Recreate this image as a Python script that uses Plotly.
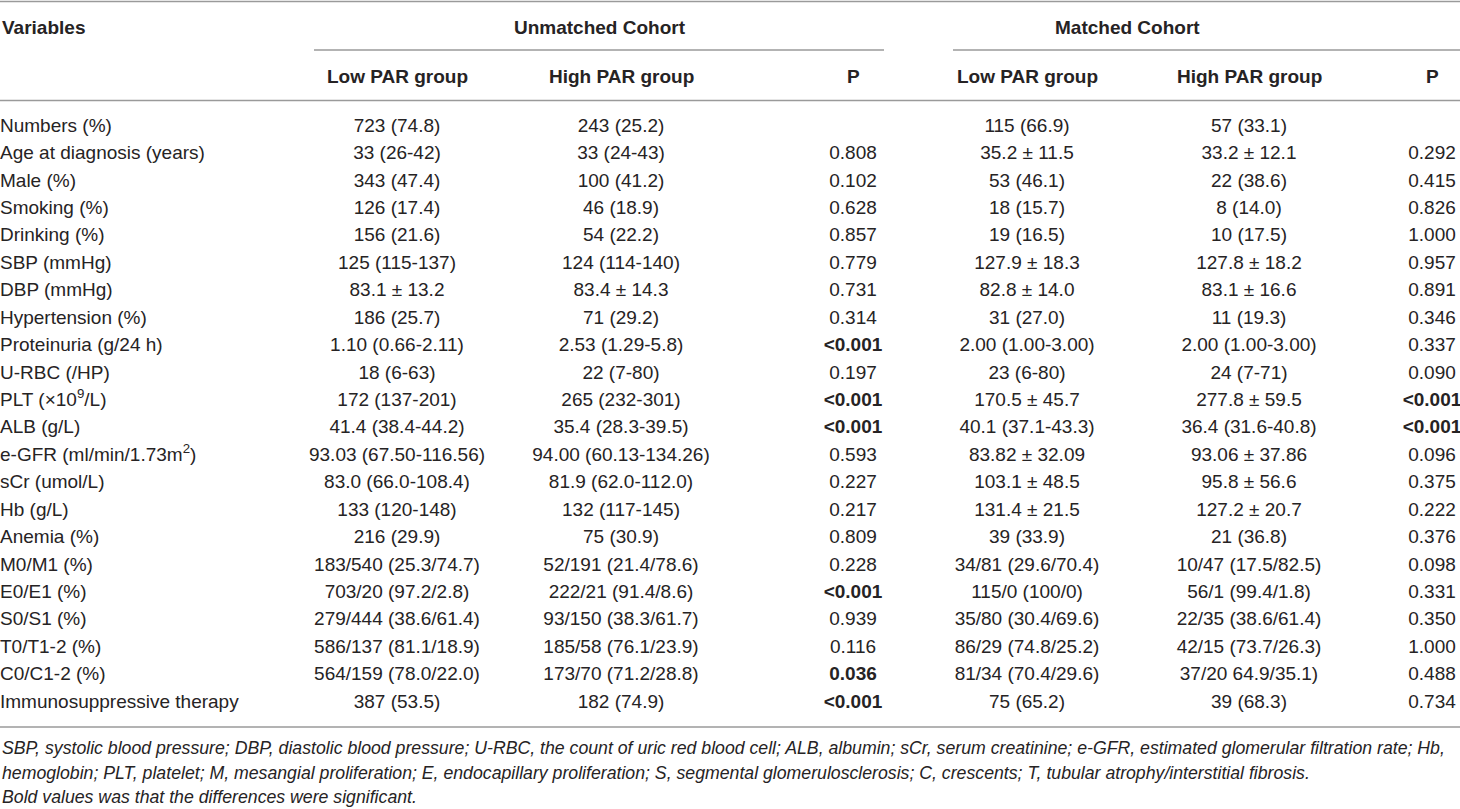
import plotly.graph_objects as go

variables = ["Numbers (%)", "Age at diagnosis (years)", "Male (%)", "Smoking (%)", "Drinking (%)",
             "SBP (mmHg)", "DBP (mmHg)", "Hypertension (%)", "Proteinuria (g/24 h)", "U-RBC (/HP)",
             "PLT (×10<sup>9</sup>/L)", "ALB (g/L)", "e-GFR (ml/min/1.73m<sup>2</sup>)", "sCr (umol/L)",
             "Hb (g/L)", "Anemia (%)", "M0/M1 (%)", "E0/E1 (%)", "S0/S1 (%)", "T0/T1-2 (%)",
             "C0/C1-2 (%)", "Immunosuppressive therapy"]
unm_low = ["723 (74.8)", "33 (26-42)", "343 (47.4)", "126 (17.4)", "156 (21.6)", "125 (115-137)",
           "83.1 ± 13.2", "186 (25.7)", "1.10 (0.66-2.11)", "18 (6-63)", "172 (137-201)",
           "41.4 (38.4-44.2)", "93.03 (67.50-116.56)", "83.0 (66.0-108.4)", "133 (120-148)",
           "216 (29.9)", "183/540 (25.3/74.7)", "703/20 (97.2/2.8)", "279/444 (38.6/61.4)",
           "586/137 (81.1/18.9)", "564/159 (78.0/22.0)", "387 (53.5)"]
unm_high = ["243 (25.2)", "33 (24-43)", "100 (41.2)", "46 (18.9)", "54 (22.2)", "124 (114-140)",
            "83.4 ± 14.3", "71 (29.2)", "2.53 (1.29-5.8)", "22 (7-80)", "265 (232-301)",
            "35.4 (28.3-39.5)", "94.00 (60.13-134.26)", "81.9 (62.0-112.0)", "132 (117-145)",
            "75 (30.9)", "52/191 (21.4/78.6)", "222/21 (91.4/8.6)", "93/150 (38.3/61.7)",
            "185/58 (76.1/23.9)", "173/70 (71.2/28.8)", "182 (74.9)"]
unm_p = ["", "0.808", "0.102", "0.628", "0.857", "0.779", "0.731", "0.314", "<0.001", "0.197",
         "<0.001", "<0.001", "0.593", "0.227", "0.217", "0.809", "0.228", "<0.001", "0.939",
         "0.116", "0.036", "<0.001"]
unm_p_bold = [False, False, False, False, False, False, False, False, True, False,
              True, True, False, False, False, False, False, True, False,
              False, True, True]
mat_low = ["115 (66.9)", "35.2 ± 11.5", "53 (46.1)", "18 (15.7)", "19 (16.5)", "127.9 ± 18.3",
           "82.8 ± 14.0", "31 (27.0)", "2.00 (1.00-3.00)", "23 (6-80)", "170.5 ± 45.7",
           "40.1 (37.1-43.3)", "83.82 ± 32.09", "103.1 ± 48.5", "131.4 ± 21.5", "39 (33.9)",
           "34/81 (29.6/70.4)", "115/0 (100/0)", "35/80 (30.4/69.6)", "86/29 (74.8/25.2)",
           "81/34 (70.4/29.6)", "75 (65.2)"]
mat_high = ["57 (33.1)", "33.2 ± 12.1", "22 (38.6)", "8 (14.0)", "10 (17.5)", "127.8 ± 18.2",
            "83.1 ± 16.6", "11 (19.3)", "2.00 (1.00-3.00)", "24 (7-71)", "277.8 ± 59.5",
            "36.4 (31.6-40.8)", "93.06 ± 37.86", "95.8 ± 56.6", "127.2 ± 20.7", "21 (36.8)",
            "10/47 (17.5/82.5)", "56/1 (99.4/1.8)", "22/35 (38.6/61.4)", "42/15 (73.7/26.3)",
            "37/20 64.9/35.1)", "39 (68.3)"]
mat_p = ["", "0.292", "0.415", "0.826", "1.000", "0.957", "0.891", "0.346", "0.337", "0.090",
         "<0.001", "<0.001", "0.096", "0.375", "0.222", "0.376", "0.098", "0.331", "0.350",
         "1.000", "0.488", "0.734"]
mat_p_bold = [False, False, False, False, False, False, False, False, False, False,
              True, True, False, False, False, False, False, False, False,
              False, False, False]

group_headers = ["Unmatched Cohort", "Matched Cohort"]
sub_headers = ["Low PAR group", "High PAR group", "P", "Low PAR group", "High PAR group", "P"]
footnotes = [
    "SBP, systolic blood pressure; DBP, diastolic blood pressure; U-RBC, the count of uric red blood cell; ALB, albumin; sCr, serum creatinine; e-GFR, estimated glomerular filtration rate; Hb,",
    "hemoglobin; PLT, platelet; M, mesangial proliferation; E, endocapillary proliferation; S, segmental glomerulosclerosis; C, crescents; T, tubular atrophy/interstitial fibrosis.",
    "Bold values was that the differences were significant.",
]

# ---- layout constants ----
W, H = 1460, 809
FONT = "Liberation Sans, Arial, sans-serif"
FS = 19
TXT = "#262324"
LINE = "#9a9a9a"
col_x = [397, 621, 853, 1027, 1249, 1432]
row0, drow = 127, 27.43
rows_y = [row0 + i * drow for i in range(len(variables))]


def fmt(vals, bold=None):
    ys, ts = [], []
    for i, v in enumerate(vals):
        if not v:
            continue
        ys.append(rows_y[i])
        ts.append(f"<b>{v}</b>" if bold and bold[i] else v)
    return ys, ts


fig = go.Figure()

fig.add_trace(go.Scatter(x=[0] * len(variables), y=rows_y, text=variables, mode="text",
                         textposition="middle right", hoverinfo="skip",
                         textfont=dict(family=FONT, size=FS, color=TXT)))
columns = [fmt(unm_low), fmt(unm_high), fmt(unm_p, unm_p_bold),
           fmt(mat_low), fmt(mat_high), fmt(mat_p, mat_p_bold)]
for cx, (ys, ts) in zip(col_x, columns):
    fig.add_trace(go.Scatter(x=[cx] * len(ts), y=ys, text=ts, mode="text",
                             textposition="middle center", hoverinfo="skip",
                             textfont=dict(family=FONT, size=FS, color=TXT)))

ann = []
ann.append(dict(x=0, y=27, text="<b>Variables</b>", xanchor="left"))
for cx, t in zip([600, 1127], group_headers):
    ann.append(dict(x=cx, y=27, text=f"<b>{t}</b>", xanchor="center"))
for cx, t in zip(col_x, sub_headers):
    ann.append(dict(x=cx, y=76, text=f"<b>{t}</b>", xanchor="center"))
for i, t in enumerate(footnotes):
    ann.append(dict(x=0, y=748 + i * 24.5, text=f"<i>{t}</i>", xanchor="left",
                    font=dict(family=FONT, size=17.7, color=TXT)))
annotations = []
for a in ann:
    a.setdefault("font", dict(family=FONT, size=FS, color=TXT))
    a.update(xref="x", yref="y", yanchor="middle", showarrow=False)
    annotations.append(a)

shapes = []
for (x0, x1, y) in [(0, W, 1.5), (314, 884, 50), (953, W, 50), (0, W, 100.5), (0, W, 727)]:
    shapes.append(dict(type="line", xref="x", yref="y", x0=x0, x1=x1, y0=y, y1=y,
                       line=dict(color=LINE, width=1.5)))

fig.update_layout(
    width=W, height=H, margin=dict(l=0, r=0, t=0, b=0),
    paper_bgcolor="white", plot_bgcolor="white", showlegend=False,
    xaxis=dict(range=[0, W], visible=False, fixedrange=True),
    yaxis=dict(range=[H, 0], visible=False, fixedrange=True),
    annotations=annotations, shapes=shapes,
)
fig.write_html("out.html", config={"displayModeBar": False},
               post_script="document.body.style.margin='0';document.body.style.overflow='hidden';")
